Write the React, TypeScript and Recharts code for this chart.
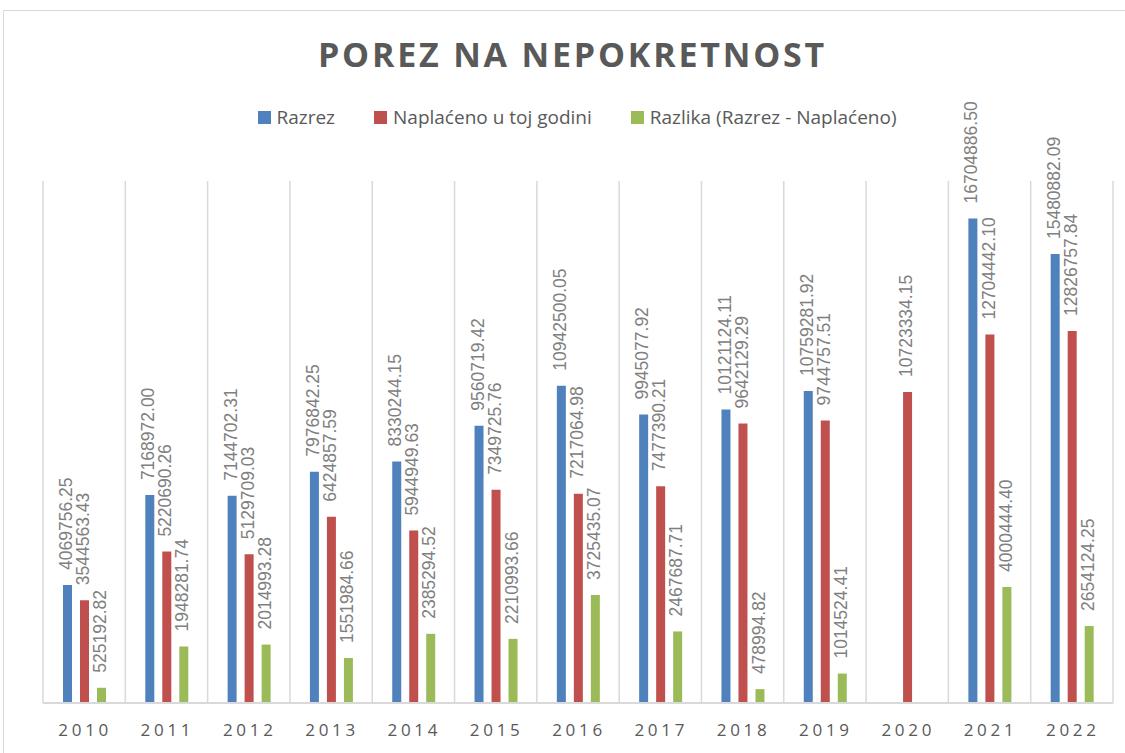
import { BarChart, Bar, XAxis, YAxis, CartesianGrid, LabelList } from "recharts";

const years = ["2010", "2011", "2012", "2013", "2014", "2015", "2016", "2017", "2018", "2019", "2020", "2021", "2022"];
const razrez = [4069756.25, 7168972.0, 7144702.31, 7976842.25, 8330244.15, 9560719.42, 10942500.05, 9945077.92, 10121124.11, 10759281.92, null, 16704886.5, 15480882.09];
const naplaceno = [3544563.43, 5220690.26, 5129709.03, 6424857.59, 5944949.63, 7349725.76, 7217064.98, 7477390.21, 9642129.29, 9744757.51, 10723334.15, 12704442.1, 12826757.84];
const razlika = [525192.82, 1948281.74, 2014993.28, 1551984.66, 2385294.52, 2210993.66, 3725435.07, 2467687.71, 478994.82, 1014524.41, null, 4000444.4, 2654124.25];

const series = [
  { key: "razrez", name: "Razrez", color: "#4f81bd" },
  { key: "naplaceno", name: "Naplaćeno u toj godini", color: "#c0504d" },
  { key: "razlika", name: "Razlika (Razrez - Naplaćeno)", color: "#9bbb59" },
];

const data = years.map((y, i) => ({ year: y, razrez: razrez[i], naplaceno: naplaceno[i], razlika: razlika[i] }));

const W = 1125;
const H = 753;

function RotLabel(props: any) {
  const { x, y, width, value } = props;
  if (value == null) return null;
  const cx = x + width / 2;
  const ty = y - 15;
  return (
    <text
      x={cx}
      y={ty}
      transform={`rotate(-90 ${cx} ${ty})`}
      textAnchor="start"
      dominantBaseline="middle"
      fill="#808080"
      fontSize={17.5}
      fontFamily="Liberation Sans, Arial, sans-serif"
    >
      {Number(value).toFixed(2)}
    </text>
  );
}

function YearTick(props: any) {
  const { x, y, payload } = props;
  return (
    <text x={x + 1} y={y + 25} textAnchor="middle" fill="#595959" fontSize={17} letterSpacing={3.7} fontFamily="Open Sans, sans-serif">
      {payload.value}
    </text>
  );
}

export default function App() {
  return (
    <div style={{ position: "absolute", left: 0, top: 0, width: W, height: H, background: "#fff", overflow: "hidden" }}>
      <div style={{ position: "absolute", left: 3, top: 10, width: W + 10, height: H, border: "1.5px solid #d9d9d9", boxSizing: "border-box" }} />
      <div style={{ position: "absolute", left: 0, top: 31, width: 1145, textAlign: "center", fontFamily: "Open Sans, sans-serif", fontWeight: 700, fontSize: 34, letterSpacing: 2.8, color: "#595959", whiteSpace: "nowrap" }}>
        POREZ NA NEPOKRETNOST
      </div>
      <div style={{ position: "absolute", left: 0, top: 104, width: 1154, display: "flex", justifyContent: "center", gap: 39, fontFamily: "Open Sans, sans-serif", fontSize: 19, color: "#595959", whiteSpace: "nowrap" }}>
        {series.map((s) => (
          <div key={s.key} style={{ display: "flex", alignItems: "center" }}>
            <span style={{ display: "inline-block", width: 13, height: 13, background: s.color, marginRight: 6 }} />
            {s.name}
          </div>
        ))}
      </div>
      <BarChart
        width={W}
        height={H}
        data={data}
        margin={{ top: 181, right: 12, bottom: 20, left: 43 }}
        barSize={9}
        barGap={8}
        style={{ position: "absolute", left: 0, top: 0 }}
      >
        <CartesianGrid
          horizontal={false}
          stroke="#d9d9d9"
          strokeWidth={1.5}
          verticalCoordinatesGenerator={({ offset }: any) =>
            years.map((_, i) => offset.left + ((i + 1) * offset.width) / years.length).concat([offset.left])
          }
        />
        <XAxis dataKey="year" height={30} tickLine={false} axisLine={{ stroke: "#d9d9d9", strokeWidth: 2 }} tick={<YearTick />} interval={0} />
        <YAxis hide domain={[0, 18000000]} />
        {series.map((s) => (
          <Bar key={s.key} dataKey={s.key} name={s.name} fill={s.color} isAnimationActive={false}>
            <LabelList dataKey={s.key} content={<RotLabel />} />
          </Bar>
        ))}
      </BarChart>
    </div>
  );
}
